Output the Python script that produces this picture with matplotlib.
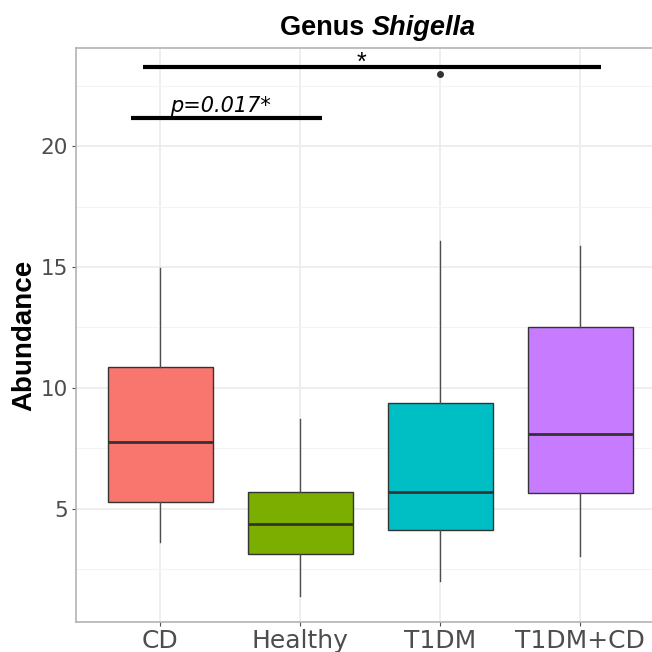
import matplotlib.pyplot as plt

# --- data ---
groups = ["CD", "Healthy", "T1DM", "T1DM+CD"]
colors = ["#F8766D", "#7CAE00", "#00BFC4", "#C77CFF"]
q1 = [5.29, 3.14, 4.13, 5.66]
med = [7.77, 4.38, 5.70, 8.10]
q3 = [10.87, 5.70, 9.38, 12.52]
whislo = [3.64, 1.40, 2.02, 3.06]
whishi = [14.95, 8.72, 16.07, 15.87]
outliers = [[], [], [22.98], []]

# significance bars: (x start, x end, y, label)
sig_top = (0.875, 4.15, 23.26, "*")
sig_low = (0.79, 2.16, 21.16, "p=0.017*")

plt.rcParams['font.family'] = ['Liberation Sans', 'DejaVu Sans']

fig = plt.figure(figsize=(6.52, 6.52), dpi=100)
# panel is cropped on the right in the original
ax = fig.add_axes([76 / 652, 1 - 622 / 652, 588 / 652, 574 / 652])

stats = []
for i, g in enumerate(groups):
    stats.append(dict(label=g, q1=q1[i], med=med[i], q3=q3[i],
                      whislo=whislo[i], whishi=whishi[i], fliers=outliers[i]))

pos = list(range(1, len(groups) + 1))
bp = ax.bxp(stats, positions=pos, widths=0.75, patch_artist=True, showcaps=False,
            boxprops=dict(edgecolor='#333333', linewidth=1.0),
            medianprops=dict(color='#333333', linewidth=2.0),
            whiskerprops=dict(color='#4D4D4D', linewidth=1.0),
            flierprops=dict(marker='o', markersize=4, markerfacecolor='#333333',
                            markeredgecolor='#333333'))
for patch, c in zip(bp['boxes'], colors):
    patch.set_facecolor(c)
    patch.set_zorder(2)

ax.set_xlim(0.4, 4.6)
ax.set_ylim(0.33, 24.05)
ax.set_yticks([5, 10, 15, 20])
ax.set_yticks([2.5, 7.5, 12.5, 17.5, 22.5], minor=True)
ax.set_xticks(pos)
ax.set_xticklabels(groups)
ax.grid(True, which='major', color='#EBEBEB', linewidth=1.2)
ax.grid(True, which='minor', axis='y', color='#F3F3F3', linewidth=0.8)
ax.set_axisbelow(True)
ax.tick_params(axis='both', which='major', colors='#4D4D4D',
               length=3, width=0.8, pad=3)
ax.tick_params(axis='x', labelsize=18, pad=2)
ax.tick_params(axis='y', labelsize=15.5)
ax.tick_params(axis='y', which='minor', length=0)
for lab in ax.get_xticklabels() + ax.get_yticklabels():
    lab.set_family('DejaVu Sans')
for s in ax.spines.values():
    s.set_color('#B3B3B3')
    s.set_linewidth(1.2)
ax.spines['right'].set_visible(False)

ax.set_ylabel("Abundance", fontsize=20, fontweight='bold', labelpad=2)

# significance annotations
x0, x1, y, lab = sig_top
ax.plot([x0, x1], [y, y], color='black', linewidth=3, solid_capstyle='butt')
ax.text(2.44, y - 0.3, lab, ha='center', va='bottom', fontsize=18)
x0, x1, y, lab = sig_low
ax.plot([x0, x1], [y, y], color='black', linewidth=3, solid_capstyle='butt')
ax.text(1.43, y + 0.1, lab, ha='center', va='bottom', fontsize=15,
        style='italic', family='DejaVu Sans')

# title: "Genus" bold + "Shigella" bold italic, centred as a whole
t1 = fig.text(0, 0.957, "Genus ", ha='left', va='center', fontsize=19.5,
              fontweight='bold')
t2 = fig.text(0, 0.957, "Shigella", ha='left', va='center', fontsize=19.5,
              fontweight='bold', style='italic')
fig.canvas.draw()
r = fig.canvas.get_renderer()
w1 = t1.get_window_extent(r).width
w2 = t2.get_window_extent(r).width
x_start = 378 - (w1 + w2) / 2
t1.set_x(x_start / 652)
t2.set_x((x_start + w1) / 652)

fig.savefig("out.png", dpi=100)
